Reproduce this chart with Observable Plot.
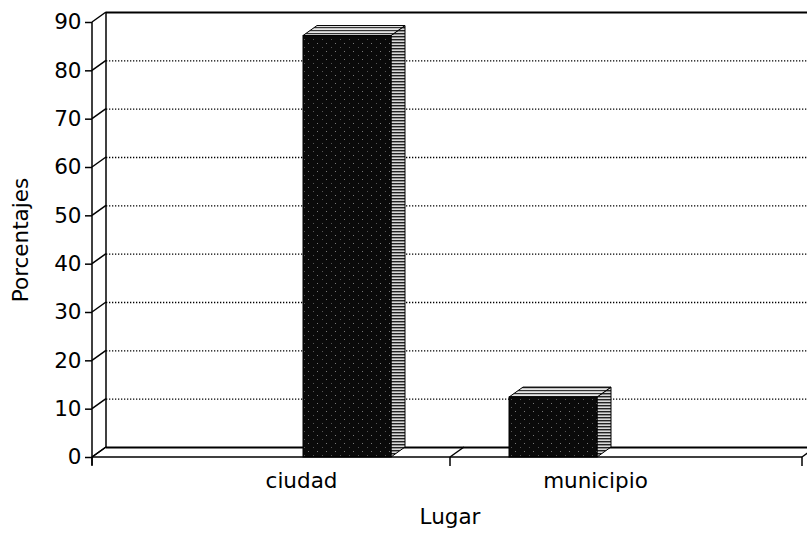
<!DOCTYPE html>
<html><head><meta charset="utf-8">
<script src="https://cdn.jsdelivr.net/npm/d3@7"></script>
<script src="https://cdn.jsdelivr.net/npm/@observablehq/plot@0.6"></script>
<style>
body{margin:0;background:#fff;overflow:hidden}
#chart svg{overflow:hidden}
</style>
</head><body>
<svg width="0" height="0" style="position:absolute">
  <defs>
    <pattern id="frontPat" width="9" height="8" patternUnits="userSpaceOnUse">
      <rect width="9" height="8" fill="#0a0a0a"/>
      <rect x="2" y="3" width="1" height="1" fill="#777"/>
      <rect x="7" y="7" width="1" height="1" fill="#555"/>
    </pattern>
    <pattern id="sidePat" width="4" height="3" patternUnits="userSpaceOnUse">
      <rect width="4" height="3" fill="#d8d8d8"/>
      <rect width="4" height="1.4" fill="#222"/>
    </pattern>
    <pattern id="topPat" width="5" height="3" patternUnits="userSpaceOnUse">
      <rect width="5" height="3" fill="#e6e6e6"/>
      <rect width="5" height="1.2" fill="#333"/>
    </pattern>
  </defs>
</svg>
<div id="chart"></div>
<script>
const categories = ["ciudad", "municipio"];
const porcentajes = [87.2, 12.4];
const yTicks = [0, 10, 20, 30, 40, 50, 60, 70, 80, 90];
const xTitle = "Lugar";
const yTitle = "Porcentajes";

const data = categories.map((c, i) => ({lugar: c, valor: porcentajes[i]}));
const DX = 14, DY = -10; // 3D depth offset (px)
const FONT = "'DejaVu Sans', 'Liberation Sans', Arial, sans-serif";
const FS = 21.5;

function backWall(index, scales, values, dims) {
  const {y} = scales;
  const L = dims.marginLeft;
  const y0 = y(yTicks[0]), yTop = y(yTicks[yTicks.length - 1]);
  const g = d3.create("svg:g").attr("stroke", "#000").attr("fill", "none").attr("stroke-width", 1.5);
  g.append("line").attr("x1", L + DX).attr("x2", L + DX).attr("y1", y0 + DY).attr("y2", yTop + DY);
  return g.node();
}

function barFaces(index, scales, values, dims) {
  const {x, y} = scales;
  const bw = x.bandwidth();
  const g = d3.create("svg:g").attr("stroke", "#000").attr("stroke-width", 1);
  for (const d of data) {
    const x0 = x(d.lugar), x1 = x0 + bw, yt = y(d.valor), yb = y(0);
    g.append("polygon")
      .attr("points", [[x1, yb], [x1 + DX, yb + DY], [x1 + DX, yt + DY], [x1, yt]].join(" "))
      .attr("fill", "url(#sidePat)");
    g.append("polygon")
      .attr("points", [[x0, yt], [x0 + DX, yt + DY], [x1 + DX, yt + DY], [x1, yt]].join(" "))
      .attr("fill", "url(#topPat)");
  }
  return g.node();
}

function frontAxes(index, scales, values, dims) {
  const {x, y} = scales;
  const L = dims.marginLeft, R = dims.width - dims.marginRight - 5;
  const y0 = y(yTicks[0]), yTop = y(yTicks[yTicks.length - 1]);
  const g = d3.create("svg:g").attr("stroke", "#000").attr("fill", "none").attr("stroke-width", 1.5);
  g.append("line").attr("x1", L).attr("x2", L).attr("y1", y0 + 8).attr("y2", yTop);
  g.append("line").attr("x1", L).attr("x2", R).attr("y1", y0).attr("y2", y0);
  for (const t of yTicks) {
    g.append("line").attr("x1", L).attr("x2", L + DX).attr("y1", y(t)).attr("y2", y(t) + DY);
  }
  const bw = x.bandwidth();
  const mid = (x(categories[0]) + bw + x(categories[1])) / 2;
  for (const xb of [L, mid, R]) {
    g.append("line").attr("x1", xb).attr("x2", xb).attr("y1", y0).attr("y2", y0 + 9);
    g.append("line").attr("x1", xb).attr("x2", xb + DX).attr("y1", y0).attr("y2", y0 + DY);
  }
  return g.node();
}

const chart = Plot.plot({
  width: 807,
  height: 534,
  marginLeft: 92,
  marginRight: 0,
  marginTop: 22,
  marginBottom: 77,
  style: {fontFamily: FONT, fontSize: FS + "px", background: "#fff", color: "#000"},
  x: {type: "band", domain: categories, paddingInner: 0.573, paddingOuter: 1.02, axis: null},
  y: {domain: [0, 90], axis: null},
  marks: [
    Plot.ruleY(yTicks.slice(1, -1), {dx: DX, dy: DY, stroke: "#000", strokeWidth: 1.3, strokeDasharray: "1.3,1.7"}),
    Plot.ruleY([yTicks[yTicks.length - 1]], {dx: DX, dy: DY, stroke: "#000", strokeWidth: 1.8}),
    Plot.ruleY([0], {dx: DX, dy: DY, stroke: "#000", strokeWidth: 1.8}),
    backWall,
    barFaces,
    Plot.barY(data, {x: "lugar", y: "valor", fill: "url(#frontPat)", stroke: "#000", strokeWidth: 1}),
    frontAxes,
    Plot.axisY(yTicks, {tickSize: 7, tickPadding: 4, strokeWidth: 1.5, label: null, fontSize: FS, fill: "#000"}),
    Plot.text([categories[0]], {x: d => d, frameAnchor: "bottom", lineAnchor: "middle", dx: -46, dy: 24, fontSize: FS, fill: "#000"}),
    Plot.text([categories[1]], {x: d => d, frameAnchor: "bottom", lineAnchor: "middle", dx: 42, dy: 24, fontSize: FS, fill: "#000"}),
    Plot.text([xTitle], {frameAnchor: "bottom", lineAnchor: "middle", textAnchor: "middle", dy: 60, fontSize: FS, fill: "#000"}),
    Plot.text([yTitle], {frameAnchor: "left", textAnchor: "middle", lineAnchor: "middle", dx: -71, rotate: -90, fontSize: FS, fill: "#000"})
  ]
});
document.getElementById("chart").appendChild(chart);
</script>
</body></html>
